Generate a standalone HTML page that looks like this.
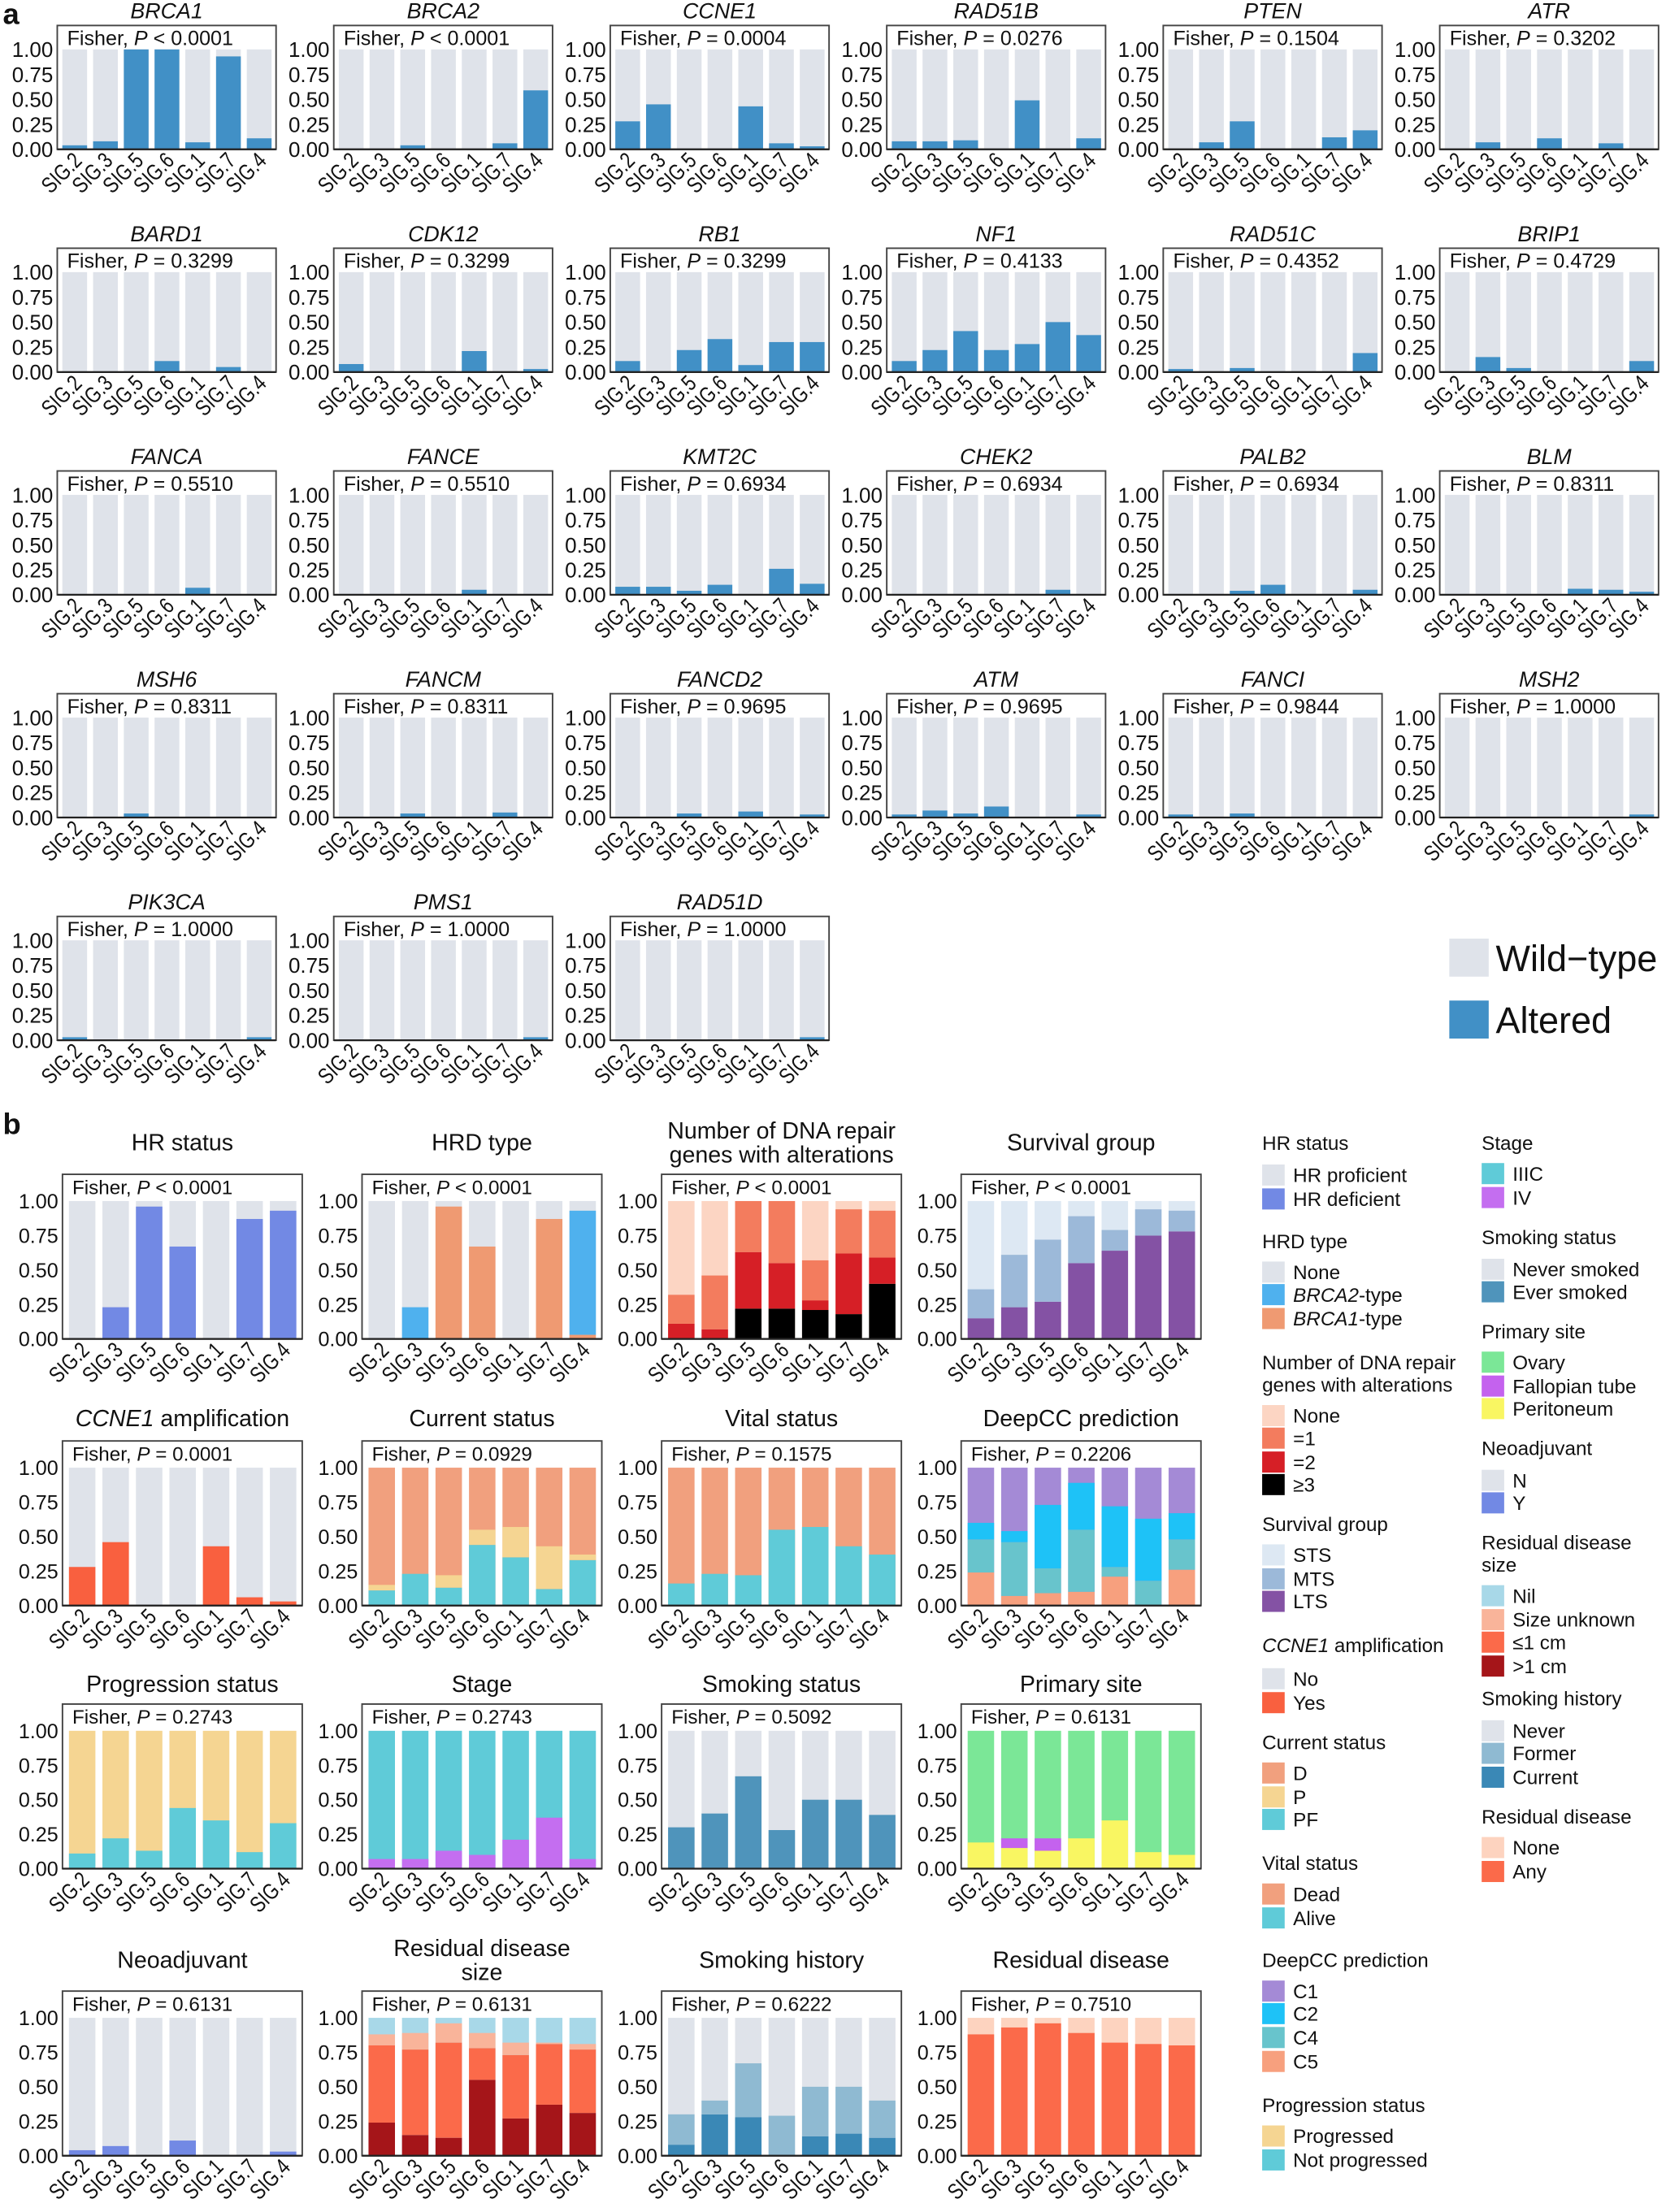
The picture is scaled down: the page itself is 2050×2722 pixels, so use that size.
<!DOCTYPE html>
<html><head><meta charset="utf-8">
<style>
html,body{margin:0;padding:0;background:#fff;}
#w{width:2050px;height:2717px;}
svg text{font-family:"Liberation Sans","DejaVu Sans",sans-serif;fill:#111;}
</style></head>
<body><div id="w"></div>
<script>
const G='#dfe3ea';
const SIG=['SIG.2','SIG.3','SIG.5','SIG.6','SIG.1','SIG.7','SIG.4'];
let s='';
function fisher(p){
  const op = p.startsWith('<') ? '&lt; '+p.slice(1) : '= '+p;
  return 'Fisher, <tspan font-style="italic">P</tspan> '+op;
}
function panel(o){
  const {L,W,B,H,top,off,pitch,bw,fs,xfs}=o;
  ['0.00','0.25','0.50','0.75','1.00'].forEach((t,i)=>{
    const y=B-H*i/4;
    s+=`<text x="${L-3}" y="${y+fs*0.36}" font-size="${fs}" text-anchor="end">${t}</text>`;
  });
  o.bars.forEach((b,i)=>{
    const x=L+off+i*pitch;
    s+=`<rect x="${x}" y="${B-H}" width="${bw}" height="${H}" fill="${b.bg||G}"/>`;
    let prev=0;
    b.segs.forEach(([c,col])=>{
      if(c>prev){s+=`<rect x="${x}" y="${B-H*c}" width="${bw}" height="${H*(c-prev)}" fill="${col}"/>`;prev=c;}
    });
    const cx=x+bw/2+6, cy=B+9;
    s+=`<text x="0" y="0" font-size="${xfs}" text-anchor="end" transform="translate(${cx} ${cy}) rotate(-45) scale(0.8 1)">${SIG[i]}</text>`;
  });
  s+=`<rect x="${L}" y="${top}" width="${W}" height="${B-top}" fill="none" stroke="#444" stroke-width="1.1"/>`;
  s+=`<line x1="${L}" x2="${L+W}" y1="${B}" y2="${B}" stroke="#222" stroke-width="1.3"/>`;
  s+=`<text x="${L+7}" y="${top+14}" font-size="${o.ffs}">${fisher(o.p)}</text>`;
}
const A=[
['BRCA1','<0.0001',[.04,.08,1,1,.07,.93,.11]],
['BRCA2','<0.0001',[0,0,.04,0,0,.06,.59]],
['CCNE1','0.0004',[.28,.45,0,0,.43,.06,.03]],
['RAD51B','0.0276',[.08,.08,.09,0,.49,0,.11]],
['PTEN','0.1504',[0,.07,.28,0,0,.12,.19]],
['ATR','0.3202',[0,.07,0,.11,0,.06,0]],
['BARD1','0.3299',[0,0,0,.11,0,.05,0]],
['CDK12','0.3299',[.08,0,0,0,.21,0,.03]],
['RB1','0.3299',[.11,0,.22,.33,.07,.30,.30]],
['NF1','0.4133',[.11,.22,.41,.22,.28,.50,.37]],
['RAD51C','0.4352',[.03,0,.04,0,0,0,.19]],
['BRIP1','0.4729',[0,.15,.04,0,0,0,.11]],
['FANCA','0.5510',[0,0,0,0,.07,0,0]],
['FANCE','0.5510',[0,0,0,0,.05,0,0]],
['KMT2C','0.6934',[.08,.08,.04,.10,0,.26,.11]],
['CHEK2','0.6934',[0,0,0,0,0,.05,0]],
['PALB2','0.6934',[0,0,.04,.10,0,0,.05]],
['BLM','0.8311',[0,0,0,0,.06,.05,.03]],
['MSH6','0.8311',[0,0,.04,0,0,0,0]],
['FANCM','0.8311',[0,0,.04,0,0,.05,0]],
['FANCD2','0.9695',[0,0,.04,0,.06,0,.03]],
['ATM','0.9695',[.03,.07,.04,.11,0,0,.03]],
['FANCI','0.9844',[.03,0,.04,0,0,0,0]],
['MSH2','1.0000',[0,0,0,0,0,0,.03]],
['PIK3CA','1.0000',[.03,0,0,0,0,0,.03]],
['PMS1','1.0000',[0,0,0,0,0,0,.03]],
['RAD51D','1.0000',[0,0,0,0,0,0,.03]]];
const ALT='#4190c6';
A.forEach((g,k)=>{
  const c=k%6,r=Math.floor(k/6);
  const L=40.7+196.5*c,B=106+158.3*r,W=155.5;
  panel({L,W,B,H:71,top:B-88,off:3.6,pitch:21.85,bw:17.6,fs:15,xfs:16,ffs:14.5,p:g[1],
    bars:g[2].map(v=>({segs:[[v,ALT]]}))});
  s+=`<text x="${L+W/2}" y="${B-93}" font-size="15.5" font-style="italic" text-anchor="middle">${g[0]}</text>`;
});
s+=`<text x="2" y="17" font-size="21" font-weight="bold">a</text>`;
s+=`<rect x="1030" y="667" width="28" height="27" fill="${G}"/><text x="1063" y="690" font-size="26">Wild−type</text>`;
s+=`<rect x="1030" y="711" width="28" height="27" fill="${ALT}"/><text x="1063" y="734" font-size="26">Altered</text>`;
s+=`<text x="2" y="806" font-size="21" font-weight="bold">b</text>`;
function mk(vals,cols,bg){return vals.map(v=>({bg,segs:(Array.isArray(v)?v:[v]).map((c,i)=>[c,cols[i]])}));}
const CUR=['#5fcbd8','#f5d592'], D='#f1a07e';
const Bp=[
 ['HR status','<0.0001',mk([0,.23,.96,.67,0,.87,.93],['#7289e4'],G)],
 ['HRD type','<0.0001',mk([[0,0],[0,.23],[.96,.96],[.67,.67],[0,0],[.87,.87],[.03,.93]],['#ef9a72','#4fb1ee'],G)],
 [['Number of DNA repair','genes with alterations'],'<0.0001',mk([[0,.11,.32],[0,.07,.46],[.22,.63,1],[.22,.55,1],[.21,.28,.57],[.18,.62,.94],[.40,.59,.93]],['#000','#d61f26','#f37c5e'],'#fcd5c3')],
 ['Survival group','<0.0001',mk([[.15,.36],[.23,.61],[.27,.72],[.55,.89],[.64,.79],[.75,.94],[.78,.93]],['#8452a4','#9cb9d9'],'#dde8f3')],
 [['<tspan font-style="italic">CCNE1</tspan> amplification'],'0.0001',mk([.28,.46,0,0,.43,.06,.03],['#f9603f'],G)],
 ['Current status','0.0929',mk([[.11,.15],[.23,.23],[.13,.22],[.44,.55],[.35,.57],[.12,.43],[.33,.37]],CUR,D)],
 ['Vital status','0.1575',mk([.16,.23,.22,.55,.57,.43,.37],['#5fcbd8'],D)],
 ['DeepCC prediction','0.2206',mk([[.24,.48,.60],[.07,.46,.54],[.09,.27,.73],[.10,.55,.89],[.21,.28,.72],[0,.18,.63],[.26,.48,.67]],['#f7a07e','#68c4cc','#1ec2f7'],'#a48ad6')],
 ['Progression status','0.2743',mk([.11,.22,.13,.44,.35,.12,.33],['#5fcbd8'],'#f5d592')],
 ['Stage','0.2743',mk([.07,.07,.13,.10,.21,.37,.07],['#c46ef0'],'#5fcbd8')],
 ['Smoking status','0.5092',mk([.30,.40,.67,.28,.50,.50,.39],['#4f94bb'],G)],
 ['Primary site','0.6131',mk([[.19,.19],[.15,.22],[.13,.22],[.22,.22],[.35,.35],[.12,.12],[.10,.10]],['#f9f662','#c462ee'],'#7be797')],
 ['Neoadjuvant','0.6131',mk([.04,.07,0,.11,0,0,.03],['#7289e4'],G)],
 [['Residual disease','size'],'0.6131',mk([[.24,.80,.88],[.15,.77,.89],[.13,.82,.96],[.55,.78,.89],[.27,.73,.82],[.37,.81,.82],[.31,.77,.81]],['#a51519','#fb6a4a','#f9b49a'],'#a8d8e8')],
 ['Smoking history','0.6222',mk([[.08,.30],[.30,.40],[.28,.67],[0,.29],[.14,.50],[.16,.50],[.13,.40]],['#3a88b6','#8fbad2'],G)],
 ['Residual disease','0.7510',mk([.88,.93,.96,.89,.82,.81,.80],['#fb6a4a'],'#fdd3bf')]
];
const RB=[951.5,1141,1328,1532], TY=[812,1008,1197,1393];
Bp.forEach((g,k)=>{
  const c=k%4,r=Math.floor(k/4);
  const L=44.4+212.9*c,B=RB[r],W=170.4;
  panel({L,W,B,H:98,top:B-117,off:4.6,pitch:23.8,bw:18.8,fs:14.5,xfs:16,ffs:14,p:g[1],bars:g[2]});
  const t=Array.isArray(g[0])?g[0]:[g[0]];
  if(t.length==1) s+=`<text x="${L+W/2}" y="${TY[r]+5.5}" font-size="16.5" text-anchor="middle">${t[0]}</text>`;
  else t.forEach((l,i)=>{s+=`<text x="${L+W/2}" y="${TY[r]-3+i*17}" font-size="16.5" text-anchor="middle">${l}</text>`;});
});
function lg(x,items){
  items.forEach(it=>{
    if(it.t){ s+=`<text x="${x}" y="${it.y+5}" font-size="14">${it.t}</text>`; }
    else { s+=`<rect x="${x}" y="${it.y-7.5}" width="16" height="15" fill="${it.c}"/><text x="${x+22}" y="${it.y+5}" font-size="14">${it.l}</text>`; }
  });
}
lg(897,[
 {t:'HR status',y:812},{c:G,l:'HR proficient',y:835},{c:'#7289e4',l:'HR deficient',y:852},
 {t:'HRD type',y:882},{c:G,l:'None',y:904},{c:'#4fb1ee',l:'<tspan font-style="italic">BRCA2</tspan>-type',y:920},{c:'#ef9a72',l:'<tspan font-style="italic">BRCA1</tspan>-type',y:937},
 {t:'Number of DNA repair',y:968},{t:'genes with alterations',y:984},{c:'#fcd5c3',l:'None',y:1006},{c:'#f37c5e',l:'=1',y:1022},{c:'#d61f26',l:'=2',y:1039},{c:'#000',l:'≥3',y:1055},
 {t:'Survival group',y:1083},{c:'#dde8f3',l:'STS',y:1105},{c:'#9cb9d9',l:'MTS',y:1122},{c:'#8452a4',l:'LTS',y:1138},
 {t:'<tspan font-style="italic">CCNE1</tspan> amplification',y:1169},{c:G,l:'No',y:1193},{c:'#f9603f',l:'Yes',y:1210},
 {t:'Current status',y:1238},{c:D,l:'D',y:1260},{c:'#f5d592',l:'P',y:1277},{c:'#5fcbd8',l:'PF',y:1293},
 {t:'Vital status',y:1324},{c:D,l:'Dead',y:1346},{c:'#5fcbd8',l:'Alive',y:1363},
 {t:'DeepCC prediction',y:1393},{c:'#a48ad6',l:'C1',y:1415},{c:'#1ec2f7',l:'C2',y:1431},{c:'#68c4cc',l:'C4',y:1448},{c:'#f7a07e',l:'C5',y:1465},
 {t:'Progression status',y:1496},{c:'#f5d592',l:'Progressed',y:1518},{c:'#5fcbd8',l:'Not progressed',y:1535}
]);
lg(1053,[
 {t:'Stage',y:812},{c:'#5fcbd8',l:'IIIC',y:834},{c:'#c46ef0',l:'IV',y:851},
 {t:'Smoking status',y:879},{c:G,l:'Never smoked',y:902},{c:'#4f94bb',l:'Ever smoked',y:918},
 {t:'Primary site',y:946},{c:'#7be797',l:'Ovary',y:968},{c:'#c462ee',l:'Fallopian tube',y:985},{c:'#f9f662',l:'Peritoneum',y:1001},
 {t:'Neoadjuvant',y:1029},{c:G,l:'N',y:1052},{c:'#7289e4',l:'Y',y:1068},
 {t:'Residual disease',y:1096},{t:'size',y:1112},{c:'#a8d8e8',l:'Nil',y:1134},{c:'#f9b49a',l:'Size unknown',y:1151},{c:'#fb6a4a',l:'≤1 cm',y:1167},{c:'#a51519',l:'&gt;1 cm',y:1184},
 {t:'Smoking history',y:1207},{c:G,l:'Never',y:1230},{c:'#8fbad2',l:'Former',y:1246},{c:'#3a88b6',l:'Current',y:1263},
 {t:'Residual disease',y:1291},{c:'#fdd3bf',l:'None',y:1313},{c:'#fb6a4a',l:'Any',y:1330}
]);
document.getElementById('w').innerHTML=`<svg xmlns="http://www.w3.org/2000/svg" width="2050" height="2717" viewBox="0 0 1184 1569">${s}</svg>`;
</script>
</body></html>
